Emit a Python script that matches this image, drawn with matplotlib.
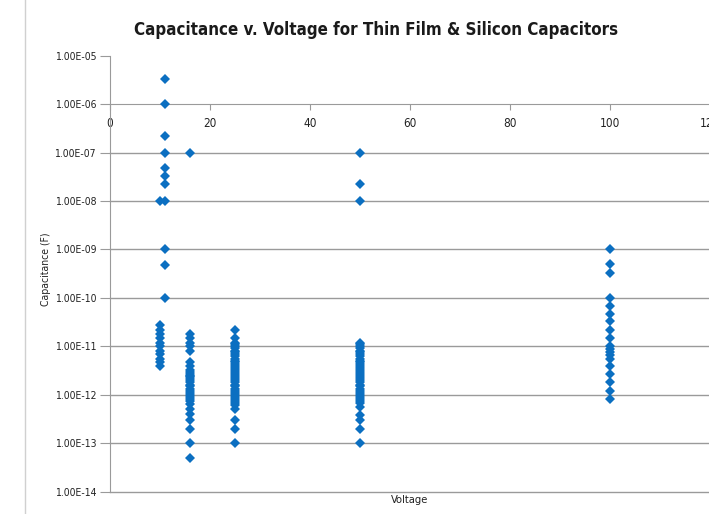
import numpy as np
import matplotlib.pyplot as plt
from matplotlib.ticker import FuncFormatter, FixedLocator
from matplotlib.lines import Line2D

plt.rcParams['font.family'] = ['DejaVu Sans']
plt.rcParams['font.stretch'] = 'condensed'

# rated voltage (V) and capacitance (F) for each part family
v10 = [10] * 11
c10 = [27e-12, 22e-12, 18e-12, 15e-12, 12e-12, 10e-12, 8.2e-12, 6.8e-12, 5.6e-12, 4.7e-12, 3.9e-12]

v10b = [10]
c10b = [1e-8]

v11 = [11] * 11
c11 = [3.3e-6, 1e-6, 2.2e-7, 1e-7, 4.7e-8, 3.3e-8, 2.2e-8, 1e-8, 1e-9, 4.7e-10, 1e-10]

v16 = [16] * 32
c16 = [1e-7,
       18e-12, 15e-12, 12e-12, 10e-12, 8.2e-12,
       4.7e-12, 3.9e-12, 3.3e-12, 3.0e-12, 2.7e-12, 2.4e-12, 2.2e-12, 2.0e-12,
       1.8e-12, 1.6e-12, 1.5e-12, 1.3e-12, 1.2e-12, 1.1e-12, 1.0e-12, 0.9e-12,
       0.82e-12, 0.75e-12, 0.66e-12, 0.52e-12, 0.41e-12, 0.3e-12, 0.2e-12, 0.1e-12,
       0.05e-12, 2.5e-12]

v25 = [25] * 38
c25 = [22e-12, 15e-12, 12e-12, 11e-12, 10e-12, 9.1e-12, 8.2e-12, 7.5e-12, 6.8e-12,
       6.2e-12, 5.6e-12, 5.1e-12, 4.7e-12, 4.3e-12, 3.9e-12, 3.6e-12, 3.3e-12,
       3.0e-12, 2.7e-12, 2.4e-12, 2.2e-12, 2.0e-12, 1.8e-12, 1.6e-12, 1.5e-12,
       1.3e-12, 1.2e-12, 1.1e-12, 1.0e-12, 0.9e-12, 0.82e-12, 0.75e-12, 0.62e-12,
       0.5e-12, 0.3e-12, 0.2e-12, 0.1e-12, 0.68e-12]

v50 = [50] * 39
c50 = [1e-7, 2.2e-8, 1e-8,
       12e-12, 11e-12, 10e-12, 9.1e-12, 8.2e-12, 7.5e-12, 6.8e-12, 6.2e-12, 5.6e-12,
       5.1e-12, 4.7e-12, 4.3e-12, 3.9e-12, 3.6e-12, 3.3e-12, 3.0e-12, 2.7e-12,
       2.4e-12, 2.2e-12, 2.0e-12, 1.8e-12, 1.6e-12, 1.5e-12, 1.3e-12, 1.2e-12,
       1.1e-12, 1.0e-12, 0.9e-12, 0.82e-12, 0.75e-12, 0.68e-12, 0.56e-12,
       0.39e-12, 0.3e-12, 0.2e-12, 0.1e-12]

v100 = [100] * 19
c100 = [1e-9, 5e-10, 3.3e-10, 1e-10, 6.8e-11, 4.7e-11, 3.3e-11, 2.2e-11, 1.5e-11,
        1e-11, 8.8e-12, 7.6e-12, 6.6e-12, 5.6e-12, 3.9e-12, 2.7e-12, 1.8e-12,
        1.2e-12, 8.2e-13]

volts = v10 + v10b + v11 + v16 + v25 + v50 + v100
caps = c10 + c10b + c11 + c16 + c25 + c50 + c100

x_ticks = [0, 20, 40, 60, 80, 100, 120]
decades = [1e-14, 1e-13, 1e-12, 1e-11, 1e-10, 1e-9, 1e-8, 1e-7, 1e-6, 1e-5]

#%%
fig = plt.figure(figsize=(7.09, 5.14), dpi=100)
ax = fig.add_axes([110 / 709, 1 - 491.7 / 514, 600 / 709, 436 / 514])

ax.set_yscale('log')
ax.set_ylim(1e-14, 1e-5)
ax.set_xlim(0, 120)

grid_col = '#9a9a9a'
for d in decades[:-2]:
    ax.axhline(d, color=grid_col, lw=1, zorder=1, clip_on=False)

ax.plot(volts, caps, linestyle='none', marker='D', markersize=4.8,
        color='#0b6fc1', markeredgewidth=0, zorder=3)

# horizontal axis crosses at 1e-6
ax.spines['bottom'].set_position(('data', 1e-6))
ax.spines['bottom'].set_color(grid_col)
ax.spines['left'].set_color(grid_col)
ax.spines['top'].set_visible(False)
ax.spines['right'].set_visible(False)

ax.xaxis.set_major_locator(FixedLocator(x_ticks))
ax.yaxis.set_major_locator(FixedLocator(decades))
ax.yaxis.set_minor_locator(FixedLocator([]))
ax.yaxis.set_major_formatter(FuncFormatter(lambda v, p: f"{v:.2E}"))
ax.tick_params(axis='x', direction='out', length=4, color=grid_col, pad=5,
               labelsize=8.5, labelcolor='#222222')
ax.tick_params(axis='y', direction='out', length=7, color=grid_col, pad=3,
               labelsize=7.5, labelcolor='#222222')

ax.set_xlabel("Voltage", fontsize=8, color='#222222', labelpad=0)
ax.xaxis.set_label_coords(0.5, -0.008)
ax.set_ylabel("Capacitance (F)", fontsize=7.5, color='#222222')
ax.yaxis.set_label_coords(-0.098, 0.51)

fig.text(376 / 709, 1 - 30 / 514, "Capacitance v. Voltage for Thin Film & Silicon Capacitors",
         ha='center', va='center', fontsize=12.2, fontweight='heavy', color='#1a1a1a')

# chart frame edge on the left
fig.add_artist(Line2D([25 / 709, 25 / 709], [0, 1], color='#d0d0d0', lw=1))

plt.savefig("out.png", dpi=100)
